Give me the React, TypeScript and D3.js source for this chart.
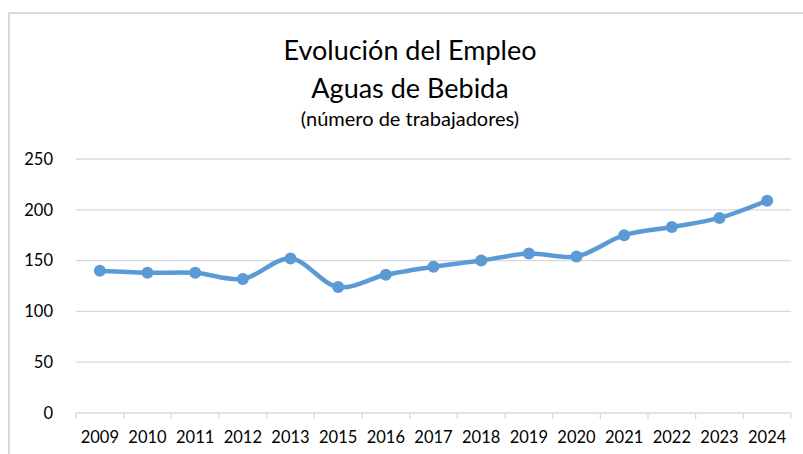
import React from "react";
import * as d3 from "d3";

const years = ["2009", "2010", "2011", "2012", "2013", "2015", "2016", "2017", "2018", "2019", "2020", "2021", "2022", "2023", "2024"];
const workers = [140, 138, 138, 132, 152, 124, 136, 144, 150, 157, 154, 175, 183, 192, 209];
const yTicks = [0, 50, 100, 150, 200, 250];

const width = 803;
const height = 454;
const margin = { top: 159, right: 12, bottom: 41, left: 76 };
const font = "Lato, 'Open Sans', sans-serif";

const App = () => {
  const x = d3
    .scaleBand()
    .domain(years)
    .range([margin.left, width - margin.right]);

  const y = d3
    .scaleLinear()
    .domain([0, 250])
    .range([height - margin.bottom, margin.top]);

  const line = d3
    .line<number>()
    .x((_, i) => x(years[i])! + x.bandwidth() / 2)
    .y((d) => y(d))
    .curve(d3.curveCatmullRom);

  const bottom = y(0);
  const boundaries = [...years.map((d) => x(d)!), x.range()[1]];

  return (
    <div style={{ position: "absolute", left: 0, top: 0 }}>
      <svg width={width} height={height} style={{ display: "block", background: "#fff" }}>
        {/* chart frame */}
        <rect x={9} y={13} width={width + 20} height={height + 20} fill="#fff" stroke="#d9d9d9" strokeWidth={2} />

        {/* titles */}
        <g fontFamily={font} fill="#000" textAnchor="middle">
          <text x={410} y={60} fontSize={27}>Evolución del Empleo</text>
          <text x={410} y={98} fontSize={27}>Aguas de Bebida</text>
          <text x={410} y={126} fontSize={20}>(número de trabajadores)</text>
        </g>

        {/* gridlines */}
        {yTicks.map((t) => (
          <line key={t} x1={margin.left} x2={width - margin.right} y1={y(t)} y2={y(t)} stroke="#d9d9d9" strokeWidth={1.3} />
        ))}

        {/* x axis ticks */}
        {boundaries.map((b, i) => (
          <line key={i} x1={b} x2={b} y1={bottom} y2={bottom + 6} stroke="#d9d9d9" strokeWidth={1.3} />
        ))}

        {/* y labels */}
        <g fontFamily={font} fontSize={16.5} fill="#000" textAnchor="end">
          {yTicks.map((t) => (
            <text key={t} x={53} y={y(t)} dy="0.35em">{t}</text>
          ))}
        </g>

        {/* x labels */}
        <g fontFamily={font} fontSize={16.5} fill="#000" textAnchor="middle">
          {years.map((d) => (
            <text key={d} x={x(d)! + x.bandwidth() / 2} y={443}>{d}</text>
          ))}
        </g>

        {/* series */}
        <path d={line(workers) ?? ""} fill="none" stroke="#5b9bd5" strokeWidth={4.5} strokeLinejoin="round" strokeLinecap="round" />
        {workers.map((v, i) => (
          <circle key={years[i]} cx={x(years[i])! + x.bandwidth() / 2} cy={y(v)} r={6} fill="#5b9bd5" />
        ))}
      </svg>
    </div>
  );
};

export default App;
